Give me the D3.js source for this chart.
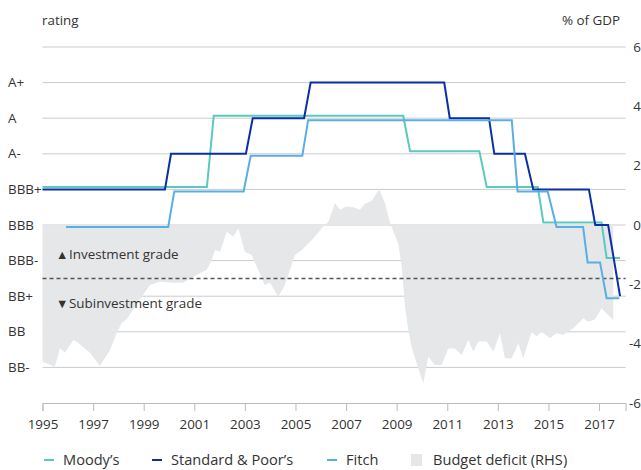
<!DOCTYPE html>
<html>
<head>
<meta charset="utf-8">
<script src="https://cdn.jsdelivr.net/npm/d3@7"></script>
<style>
  body { margin: 0; background: #fff; }
  svg text { font-family: "Open Sans", sans-serif; fill: #333; font-size: 13.4px; }
</style>
</head>
<body>
<div id="chart"></div>
<script>
// rating notches, lowest first (BB- = 1 ... A+ = 9)
const ratingLabels = ["BB-", "BB", "BB+", "BBB-", "BBB", "BBB+", "A-", "A", "A+"];
const yearTicks = [1995, 1997, 1999, 2001, 2003, 2005, 2007, 2009, 2011, 2013, 2015, 2017];
const rhsTicks = [6, 4, 2, 0, -2, -4, -6];

// [year, rating] - each change drawn as end of old level and start of new one
const moodys = [[1995.0, "BBB+"], [2001.5, "BBB+"], [2001.77, "A"], [2009.26, "A"], [2009.53, "A-"],
  [2012.27, "A-"], [2012.56, "BBB+"], [2014.58, "BBB+"], [2014.8, "BBB"], [2017.1, "BBB"],
  [2017.3, "BBB-"], [2017.83, "BBB-"]];
const standardPoors = [[1995.0, "BBB+"], [1999.84, "BBB+"], [2000.08, "A-"], [2003.04, "A-"], [2003.31, "A"],
  [2005.34, "A"], [2005.6, "A+"], [2010.88, "A+"], [2011.1, "A"], [2012.65, "A"], [2012.86, "A-"],
  [2014.07, "A-"], [2014.4, "BBB+"], [2016.6, "BBB+"], [2016.85, "BBB"], [2017.36, "BBB"], [2017.83, "BB+"]];
const fitch = [[1995.93, "BBB"], [1999.97, "BBB"], [2000.21, "BBB+"], [2002.95, "BBB+"], [2003.23, "A-"],
  [2005.27, "A-"], [2005.5, "A"], [2013.55, "A"], [2013.78, "BBB+"], [2014.97, "BBB+"], [2015.32, "BBB"],
  [2016.37, "BBB"], [2016.55, "BBB-"], [2017.04, "BBB-"], [2017.3, "BB+"], [2017.8, "BB+"]];

// budget balance, % of GDP (RHS)
const deficit = [[1995.0, -4.61], [1995.49, -4.78], [1995.69, -4.15], [1995.89, -4.31], [1996.22, -3.88],
  [1996.36, -3.94], [1996.88, -4.31], [1997.27, -4.75], [1997.67, -4.21], [1997.93, -3.64], [1998.13, -3.30],
  [1998.33, -3.17], [1998.58, -2.86], [1998.97, -2.36], [1999.25, -2.02], [1999.64, -1.91], [2000.16, -1.95],
  [2000.55, -1.95], [2001.23, -1.62], [2001.49, -1.52], [2001.69, -1.18], [2001.82, -0.84], [2002.02, -0.90],
  [2002.28, -0.23], [2002.54, -0.39], [2002.74, -0.11], [2003.0, -0.90], [2003.27, -1.01], [2003.79, -2.02],
  [2003.99, -1.95], [2004.32, -2.42], [2004.58, -2.02], [2004.98, -1.01], [2005.25, -0.84], [2005.64, -0.51],
  [2006.04, -0.11], [2006.3, 0.11], [2006.56, 0.74], [2006.76, 0.51], [2007.02, 0.62], [2007.28, 0.60],
  [2007.55, 0.51], [2007.74, 0.71], [2008.01, 0.82], [2008.31, 1.20], [2008.54, 0.73], [2008.74, 0.06],
  [2009.06, -0.62], [2009.2, -1.41], [2009.33, -2.75], [2009.46, -3.54], [2009.59, -4.10], [2009.79, -4.66],
  [2010.05, -5.34], [2010.25, -4.44], [2010.51, -4.72], [2010.78, -4.72], [2011.04, -4.16], [2011.3, -4.16],
  [2011.57, -4.38], [2011.83, -3.88], [2012.03, -4.27], [2012.23, -3.93], [2012.56, -3.93], [2012.82, -4.27],
  [2013.08, -3.65], [2013.28, -4.49], [2013.55, -4.49], [2013.81, -3.99], [2014.0, -4.49], [2014.34, -3.60],
  [2014.53, -3.76], [2014.73, -3.60], [2015.06, -3.82], [2015.32, -3.65], [2015.58, -3.71], [2015.98, -3.48],
  [2016.38, -3.14], [2016.57, -3.26], [2016.84, -3.18], [2017.1, -2.81], [2017.3, -2.98], [2017.56, -3.20]];

const series = [
  { name: "Moody\u2019s", data: moodys, color: "#5cc9bf", shift: -2.5 },
  { name: "Standard & Poor\u2019s", data: standardPoors, color: "#0a2fa6", shift: 0 },
  { name: "Fitch", data: fitch, color: "#5aaee2", shift: 2 }
];

const W = 641, H = 470;
const margin = { top: 47, right: 15.4, bottom: 67, left: 42.5 };
const width = W - margin.left - margin.right;
const height = H - margin.top - margin.bottom;

const svg = d3.select("#chart").append("svg")
  .attr("width", W)
  .attr("height", H);

const g = svg.append("g")
  .attr("transform", "translate(" + margin.left + "," + margin.top + ")");

// scales
const x = d3.scaleLinear().domain([1995, 2018.05]).range([0, width]);
const yR = d3.scaleLinear().domain([0, ratingLabels.length + 1]).range([height, 0]);
const yD = d3.scaleLinear().domain([-6, 6]).range([height, 0]);
const notch = r => ratingLabels.indexOf(r) + 1;

// gridlines
g.append("g")
  .selectAll("line")
  .data(d3.range(1, ratingLabels.length + 2))
  .enter().append("line")
  .attr("x1", 0).attr("x2", width)
  .attr("y1", d => yR(d)).attr("y2", d => yR(d))
  .attr("stroke", "#cbcbcb")
  .attr("stroke-width", 1);

// budget deficit area
g.append("path")
  .datum(deficit)
  .attr("fill", "#e6e7e9")
  .attr("d", d3.area()
    .x(d => x(d[0]))
    .y0(yD(0))
    .y1(d => yD(d[1])));

// investment grade threshold (between BBB- and BB+)
g.append("line")
  .attr("x1", 0).attr("x2", width)
  .attr("y1", yR(3.5)).attr("y2", yR(3.5))
  .attr("stroke", "#555")
  .attr("stroke-width", 1.5)
  .attr("stroke-dasharray", "4,3");

const gradeNotes = [
  { mark: "\u25B2", label: "Investment grade", dy: -24 },
  { mark: "\u25BC", label: "Subinvestment grade", dy: 25 }
];
gradeNotes.forEach(n => {
  g.append("text")
    .attr("x", 13.5).attr("y", yR(3.5) + n.dy)
    .attr("dy", "0.35em")
    .style("font-size", "12.5px")
    .text(n.mark);
  g.append("text")
    .attr("x", 26.5).attr("y", yR(3.5) + n.dy)
    .attr("dy", "0.35em")
    .text(n.label);
});

// x axis
const xAxis = g.append("g")
  .attr("transform", "translate(0," + height + ")")
  .call(d3.axisBottom(x).tickValues(yearTicks).tickFormat(d3.format("d")).tickSize(8).tickPadding(8));
xAxis.select(".domain").attr("stroke", "#bbb");
xAxis.selectAll(".tick line").attr("stroke", "#bbb");
xAxis.selectAll("text").style("font-size", "13.4px").attr("fill", "#333");

// left rating labels
g.append("g")
  .selectAll("text")
  .data(ratingLabels)
  .enter().append("text")
  .attr("x", -34.5)
  .attr("y", (d, i) => yR(i + 1))
  .attr("dy", "0.35em")
  .text(d => d);

// right axis labels
g.append("g")
  .selectAll("text")
  .data(rhsTicks)
  .enter().append("text")
  .attr("x", W - margin.left)
  .attr("y", d => yD(d))
  .attr("dy", "0.35em")
  .attr("text-anchor", "end")
  .text(d => d);

svg.append("text").attr("x", 42).attr("y", 25).text("rating");
svg.append("text").attr("x", 620).attr("y", 25).attr("text-anchor", "end").text("% of GDP");

// rating lines
const line = d3.line().x(d => x(d[0])).y(d => yR(notch(d[1])));
series.forEach(s => {
  g.append("path")
    .datum(s.data)
    .attr("fill", "none")
    .attr("stroke", s.color)
    .attr("stroke-width", 2)
    .attr("transform", "translate(0," + s.shift + ")")
    .attr("d", line);
});

// legend
const legendItems = [
  { name: series[0].name, color: series[0].color, x: 44, type: "line" },
  { name: series[1].name, color: series[1].color, x: 152, type: "line" },
  { name: series[2].name, color: series[2].color, x: 327, type: "line" },
  { name: "Budget deficit (RHS)", color: "#e6e7e9", x: 411, type: "box" }
];
const legend = svg.append("g").attr("transform", "translate(0,460)");
legendItems.forEach(d => {
  if (d.type === "line") {
    legend.append("line")
      .attr("x1", d.x).attr("x2", d.x + 10)
      .attr("y1", 0).attr("y2", 0)
      .attr("stroke", d.color).attr("stroke-width", 2);
    legend.append("text").attr("x", d.x + 19).attr("y", 0).attr("dy", "0.35em")
      .style("font-size", "14.6px").text(d.name);
  } else {
    legend.append("rect")
      .attr("x", d.x).attr("y", -6).attr("width", 11).attr("height", 12)
      .attr("fill", d.color);
    legend.append("text").attr("x", d.x + 22).attr("y", 0).attr("dy", "0.35em")
      .style("font-size", "14.6px").text(d.name);
  }
});
</script>
</body>
</html>
